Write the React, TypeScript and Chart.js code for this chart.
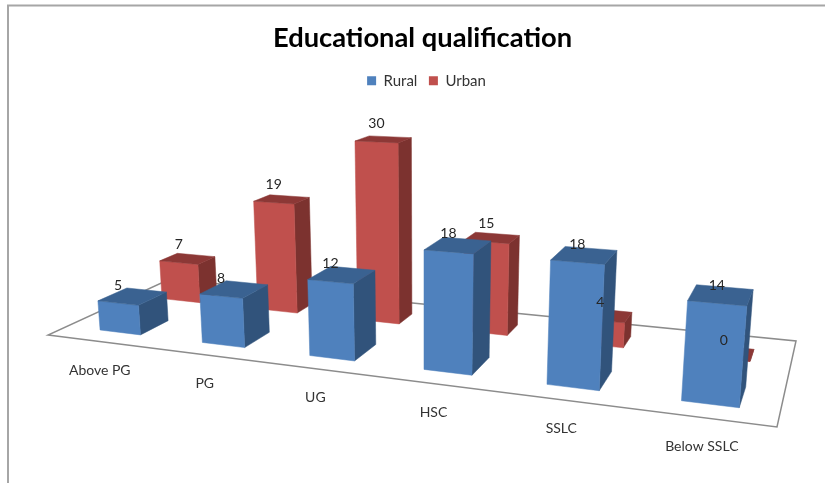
import React, { useEffect, useRef } from "react";
import { Chart, registerables } from "chart.js";

Chart.register(...registerables);

const categories = ["Above PG", "PG", "UG", "HSC", "SSLC", "Below SSLC"];
const rural = [5, 8, 12, 18, 18, 14];
const urban = [7, 19, 30, 15, 4, 0];

const FLOOR = [[48, 335], [777, 427], [796, 341], [170, 279]];
const VANISH = [424, 4630];
const HEIGHT_K = -0.00136;
const U_BEND = 0.068;
const Y_MAX = 40;
const ROWS = [
  { front: 0.14, back: 0.365, uShift: 0.0045, colors: ["#4F81BD", "#3A6291", "#31537B"] },
  { front: 0.67, back: 0.83, uShift: 0, colors: ["#C0504D", "#8C3836", "#7C322F"] },
];
const FONT = "Lato, 'Open Sans', sans-serif";

function makeProjector() {
  const [[x0, y0], [x1, y1], [x2, y2], [x3, y3]] = FLOOR;
  const dx1 = x1 - x2, dx2 = x3 - x2, sx = x0 - x1 + x2 - x3;
  const dy1 = y1 - y2, dy2 = y3 - y2, sy = y0 - y1 + y2 - y3;
  const den = dx1 * dy2 - dx2 * dy1;
  const g = (sx * dy2 - dx2 * sy) / den;
  const h = (dx1 * sy - sx * dy1) / den;
  const a = x1 - x0 + g * x1, b = x3 - x0 + h * x3;
  const d = y1 - y0 + g * y1, e = y3 - y0 + h * y3;
  return (uRaw: number, v: number, t = 0): [number, number] => {
    const u = uRaw + U_BEND * uRaw * (1 - uRaw) * (1 - uRaw);
    const L = t * Y_MAX * HEIGHT_K;
    const W = g * u + h * v + 1 + L;
    return [
      (a * u + b * v + x0 + L * VANISH[0]) / W,
      (d * u + e * v + y0 + L * VANISH[1]) / W,
    ];
  };
}

function poly(ctx: CanvasRenderingContext2D, pts: [number, number][], color: string) {
  ctx.beginPath();
  pts.forEach((p, i) => (i ? ctx.lineTo(p[0], p[1]) : ctx.moveTo(p[0], p[1])));
  ctx.closePath();
  ctx.fillStyle = color;
  ctx.fill();
  ctx.strokeStyle = color;
  ctx.lineWidth = 0.5;
  ctx.stroke();
}

const pseudo3d = {
  id: "pseudo3d",
  afterLayout(chart: any) {
    chart.legend.left += 4;
    chart.legend.right += 4;
  },
  beforeDraw(chart: any) {
    const ctx = chart.ctx;
    ctx.save();
    ctx.fillStyle = "#fff";
    ctx.fillRect(0, 0, chart.width, chart.height);
    ctx.strokeStyle = "#a6a6a6";
    ctx.lineWidth = 2;
    ctx.beginPath();
    ctx.moveTo(8, chart.height);
    ctx.lineTo(8, 5.5);
    ctx.lineTo(chart.width, 5.5);
    ctx.stroke();
    ctx.restore();
  },
  beforeDatasetsDraw(chart: any) {
    const ctx = chart.ctx;
    const area = chart.chartArea;
    const project = makeProjector();
    ctx.save();
    ctx.beginPath();
    FLOOR.forEach((p, i) => (i ? ctx.lineTo(p[0], p[1]) : ctx.moveTo(p[0], p[1])));
    ctx.closePath();
    ctx.strokeStyle = "#8c8c8c";
    ctx.lineWidth = 1.5;
    ctx.stroke();

    const labels: { text: string; x: number; y: number }[] = [];
    [1, 0].forEach((di) => {
      const row = ROWS[di];
      const meta = chart.getDatasetMeta(di);
      meta.data.forEach((el: any, i: number) => {
        const props = el.getProps(["x", "y", "base", "width"], true);
        const u0 = (props.x - props.width / 2 - area.left) / area.width + row.uShift;
        const u1 = (props.x + props.width / 2 - area.left) / area.width + row.uShift;
        const t = (props.base - props.y) / area.height;
        const v0 = row.front, v1 = row.back;
        const [cFront, cTop, cSide] = row.colors;
        poly(ctx, [project(u1, v0, 0), project(u1, v1, 0), project(u1, v1, t), project(u1, v0, t)], cSide);
        poly(ctx, [project(u0, v0, 0), project(u1, v0, 0), project(u1, v0, t), project(u0, v0, t)], cFront);
        poly(ctx, [project(u0, v0, t), project(u1, v0, t), project(u1, v1, t), project(u0, v1, t)], cTop);
        const [lx, ly] = project((u0 + u1) / 2, v0, t);
        labels.push({ text: String(chart.data.datasets[di].data[i]), x: lx, y: ly - 18 });
      });
    });

    ctx.textAlign = "center";
    ctx.textBaseline = "middle";
    ctx.fillStyle = "#262626";
    ctx.font = `14px ${FONT}`;
    labels.forEach((l) => ctx.fillText(l.text, l.x, l.y));

    ctx.font = `14px ${FONT}`;
    ctx.fillStyle = "#333";
    const meta0 = chart.getDatasetMeta(0);
    chart.data.labels.forEach((lab: string, i: number) => {
      const u = (meta0.data[i].x - area.left) / area.width;
      const [x, y] = project(u, 0, 0);
      ctx.fillText(lab, x + 1, y + 29);
    });
    ctx.restore();
    return false;
  },
};

export default function App() {
  const ref = useRef<HTMLCanvasElement>(null);
  useEffect(() => {
    document.body.style.margin = "0";
    const chart = new Chart(ref.current as HTMLCanvasElement, {
      type: "bar",
      data: {
        labels: categories,
        datasets: [
          { label: "Rural", data: rural, backgroundColor: "#4F81BD", barPercentage: 1, categoryPercentage: 0.4 },
          { label: "Urban", data: urban, backgroundColor: "#C0504D", barPercentage: 1, categoryPercentage: 0.4 },
        ],
      },
      options: {
        responsive: false,
        animation: false,
        layout: { padding: { left: 20, right: 0, top: 0, bottom: 10 } },
        scales: {
          x: { display: false, stacked: true },
          y: { display: false, min: 0, max: Y_MAX },
        },
        plugins: {
          title: {
            display: true,
            text: "Educational qualification",
            color: "#000",
            font: { family: FONT, size: 27.3, weight: "bold" },
            padding: { top: 22, bottom: 7 },
          },
          legend: {
            display: true,
            position: "top",
            labels: {
              boxWidth: 9,
              boxHeight: 9,
              color: "#333",
              padding: 11.5,
              font: { family: FONT, size: 15 },
            },
          },
          tooltip: { enabled: false },
        },
      },
      plugins: [pseudo3d],
    } as any);
    return () => chart.destroy();
  }, []);
  return <canvas ref={ref} width={825} height={483} style={{ display: "block" }} />;
}
